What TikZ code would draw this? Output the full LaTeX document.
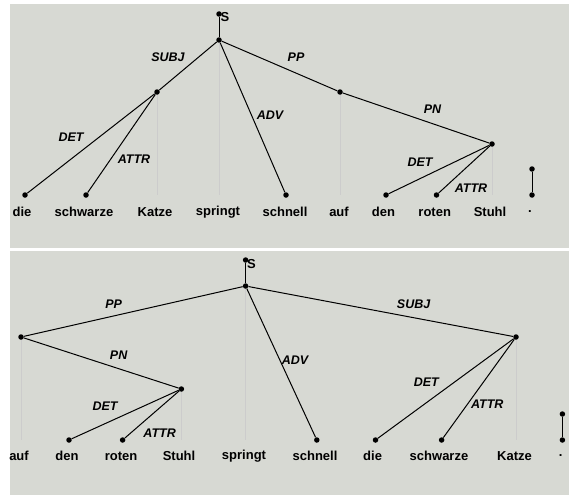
\documentclass[tikz,border=0pt]{standalone}
\usepackage{fontspec}
\setmainfont{Liberation Sans}
\begin{document}
\begin{tikzpicture}[x=1pt,y=-1pt,
  dot/.style={circle,fill=black,inner sep=0pt,minimum size=5.5pt},
  word/.style={inner sep=0pt,font=\fontsize{13}{15}\selectfont\bfseries},
  lab/.style={inner sep=0pt,font=\fontsize{12.5}{14}\selectfont\bfseries\itshape},
  edge/.style={line width=1pt,black},
  proj/.style={line width=0.8pt,draw=black!20}]
\definecolor{panel}{RGB}{215,217,211}
\useasboundingbox (0,0) rectangle (569,495);
\fill[white] (0,0) rectangle (569,495);
\fill[panel] (10,4) rectangle (569,248);
\fill[panel] (10,251) rectangle (569,495);

% ---------- top tree ----------
\node[dot] (Stop) at (219,14) {};
\node[word,anchor=west] (Sltop) at (220.5,17) {S};
\node[dot] (rtop) at (219,40) {};
\node[dot] (subjtop) at (157,92) {};
\node[dot] (pptop) at (340,92) {};
\node[dot] (pntop) at (492,144) {};
\node[dot] (dietop) at (25,195) {};
\node[dot] (schwtop) at (86,195) {};
\coordinate (katzetop) at (157,195);
\coordinate (springttop) at (219,195);
\node[dot] (schnelltop) at (286,195) {};
\coordinate (auftop) at (340,195);
\node[dot] (dentop) at (386,195) {};
\node[dot] (rotentop) at (436.5,195) {};
\coordinate (stuhltop) at (492,195);
\node[dot] (ptatop) at (532,169) {};
\node[dot] (ptbtop) at (532,195) {};

\draw[proj] (subjtop) -- (katzetop);
\draw[proj] (rtop) -- (springttop);
\draw[proj] (pptop) -- (auftop);
\draw[proj] (pntop) -- (stuhltop);
\draw[edge] (Stop) -- (rtop);
\draw[edge] (rtop) -- (subjtop);
\draw[edge] (rtop) -- (pptop);
\draw[edge] (rtop) -- (schnelltop);
\draw[edge] (subjtop) -- (dietop);
\draw[edge] (subjtop) -- (schwtop);
\draw[edge] (pptop) -- (pntop);
\draw[edge] (pntop) -- (dentop);
\draw[edge] (pntop) -- (rotentop);
\draw[edge] (ptatop) -- (ptbtop);

\node[lab] (l1) at (168,57) {SUBJ};
\node[lab] (l2) at (296,57) {PP};
\node[lab] (l3) at (270,115) {ADV};
\node[lab] (l4) at (71,137) {DET};
\node[lab] (l5) at (134,159) {ATTR};
\node[lab] (l6) at (432.5,109) {PN};
\node[lab] (l7) at (420,162) {DET};
\node[lab] (l8) at (471,188) {ATTR};

\node[word] (w1) at (22,212) {die};
\node[word] (w2) at (84,212) {schwarze};
\node[word] (w3) at (155,212) {Katze};
\node[word] (w4) at (218,212) {springt};
\node[word] (w5) at (285,212) {schnell};
\node[word] (w6) at (339,212) {auf};
\node[word] (w7) at (383.5,212) {den};
\node[word] (w8) at (434.7,212) {roten};
\node[word] (w9) at (490,212) {Stuhl};
\node[word] (w10) at (530,212) {.};

% ---------- bottom tree ----------
\node[dot] (Sbot) at (245.6,260) {};
\node[word,anchor=west] (Slbot) at (247,264) {S};
\node[dot] (rbot) at (245.6,286) {};
\node[dot] (ppbot) at (21,337) {};
\node[dot] (pnbot) at (181.4,389) {};
\node[dot] (subjbot) at (516,337) {};
\coordinate (aufbot) at (21,440);
\node[dot] (denbot) at (69,440) {};
\node[dot] (rotenbot) at (122.6,440) {};
\coordinate (stuhlbot) at (181.4,440);
\coordinate (springtbot) at (245.6,440);
\node[dot] (schnellbot) at (316.8,440) {};
\node[dot] (diebot) at (375.5,440) {};
\node[dot] (schwbot) at (441.6,440) {};
\coordinate (katzebot) at (516,440);
\node[dot] (ptabot) at (562.4,414) {};
\node[dot] (ptbbot) at (562.4,440) {};

\draw[proj] (ppbot) -- (aufbot);
\draw[proj] (pnbot) -- (stuhlbot);
\draw[proj] (rbot) -- (springtbot);
\draw[proj] (subjbot) -- (katzebot);
\draw[edge] (Sbot) -- (rbot);
\draw[edge] (rbot) -- (ppbot);
\draw[edge] (rbot) -- (subjbot);
\draw[edge] (rbot) -- (schnellbot);
\draw[edge] (ppbot) -- (pnbot);
\draw[edge] (pnbot) -- (denbot);
\draw[edge] (pnbot) -- (rotenbot);
\draw[edge] (subjbot) -- (diebot);
\draw[edge] (subjbot) -- (schwbot);
\draw[edge] (ptabot) -- (ptbbot);

\node[lab] (m1) at (113.6,304) {PP};
\node[lab] (m2) at (413.6,304) {SUBJ};
\node[lab] (m3) at (118.6,355) {PN};
\node[lab] (m4) at (295,360) {ADV};
\node[lab] (m5) at (426.3,382) {DET};
\node[lab] (m6) at (487.3,404) {ATTR};
\node[lab] (m7) at (105,406) {DET};
\node[lab] (m8) at (159.6,433) {ATTR};

\node[word] (v1) at (19,456) {auf};
\node[word] (v2) at (67,456) {den};
\node[word] (v3) at (121,456) {roten};
\node[word] (v4) at (179,456) {Stuhl};
\node[word] (v5) at (244,456) {springt};
\node[word] (v6) at (315,456) {schnell};
\node[word] (v7) at (372.6,456) {die};
\node[word] (v8) at (439,456) {schwarze};
\node[word] (v9) at (514.5,456) {Katze};
\node[word] (v10) at (560.6,456) {.};
\end{tikzpicture}
\end{document}
